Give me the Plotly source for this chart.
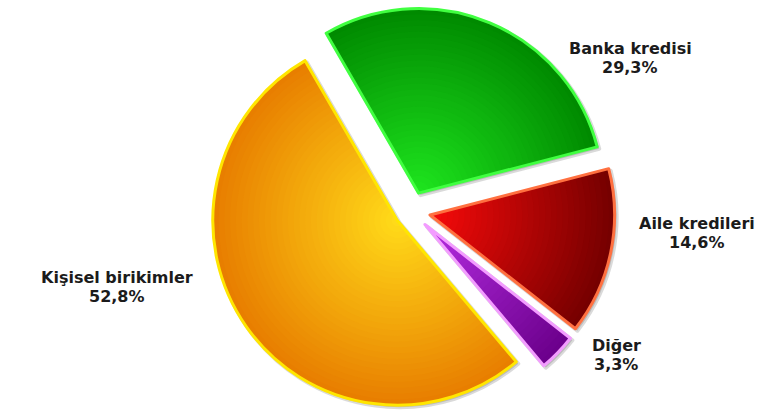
import plotly.graph_objects as go

# Funding sources (%)
labels = ["Banka kredisi", "Aile kredileri", "Diğer", "Kişisel birikimler"]
shares = [29.3, 14.6, 3.3, 52.8]

# Radial gradient per slice: colour at the slice tip -> colour at the rim
inner_colors = [(30, 228, 30), (245, 10, 10), (180, 45, 225), (255, 218, 25)]
outer_colors = [(0, 138, 0), (118, 0, 0), (108, 0, 140), (232, 126, 0)]
edge_colors = ["#40ff40", "#ff7040", "#f39cff", "#ffe600"]
pulls = [0.105, 0.105, 0.105, 0.09]

W, H = 763, 417
M = dict(l=0, r=0, t=7, b=0)
PW, PH = W - M["l"] - M["r"], H - M["t"] - M["b"]

cx_px = 411
half_w = 206
sh = 2  # drop-shadow offset in px
dom_main = dict(x=[(cx_px - half_w) / PW, (cx_px + half_w) / PW], y=[sh / PH, 1])
dom_shadow = dict(x=[(cx_px - half_w + sh) / PW, (cx_px + half_w + sh) / PW],
                  y=[0, 1 - sh / PH])

common = dict(values=shares, labels=labels, sort=False, direction="clockwise",
              rotation=-30, pull=pulls, textinfo="none", hoverinfo="skip",
              showlegend=False)


def mix(a, b, t):
    return "rgb({},{},{})".format(*[round(a[i] + (b[i] - a[i]) * t) for i in range(3)])


fig = go.Figure()

# soft grey drop shadow
fig.add_trace(go.Pie(domain=dom_shadow,
                     marker=dict(colors=["rgba(120,120,120,0.35)"] * len(shares),
                                 line=dict(color="rgba(150,150,150,0.35)", width=4)),
                     **common))

# gradient built from stacked rings, darker towards the rim
N = 32
for k in range(N):
    t = k / (N - 1)
    fig.add_trace(go.Pie(domain=dom_main, hole=k / N,
                         marker=dict(colors=[mix(i, o, t) for i, o in zip(inner_colors, outer_colors)],
                                     line=dict(width=0)),
                         **common))

# bright slice outlines
fig.add_trace(go.Pie(domain=dom_main,
                     marker=dict(colors=["rgba(0,0,0,0)"] * len(shares),
                                 line=dict(color=edge_colors, width=3)),
                     **common))

# two-line labels: name above, share below (centre x, mid-point between the lines in px)
label_pos = [(630, 58), (697, 233), (616, 354.5), (117, 287)]
FS = 16
GAP = 19


def px_x(x):
    return (x - M["l"]) / PW


def px_y(y):
    return 1 - (y - M["t"]) / PH


annotations = []
for name, val, (x, ym) in zip(labels, shares, label_pos):
    for txt, base in ((name, ym - GAP / 2), (f"{val:.1f}%".replace(".", ","), ym + GAP / 2)):
        annotations.append(dict(
            x=px_x(x), y=px_y(base), xref="paper", yref="paper",
            xanchor="center", yanchor="middle", showarrow=False, text=txt, borderpad=0,
            font=dict(family="DejaVu Sans", size=FS, color="#1b1b1b", weight="bold")))

fig.update_layout(width=W, height=H, margin=M, paper_bgcolor="white",
                  plot_bgcolor="white", annotations=annotations)

fig.write_html("out.html")
